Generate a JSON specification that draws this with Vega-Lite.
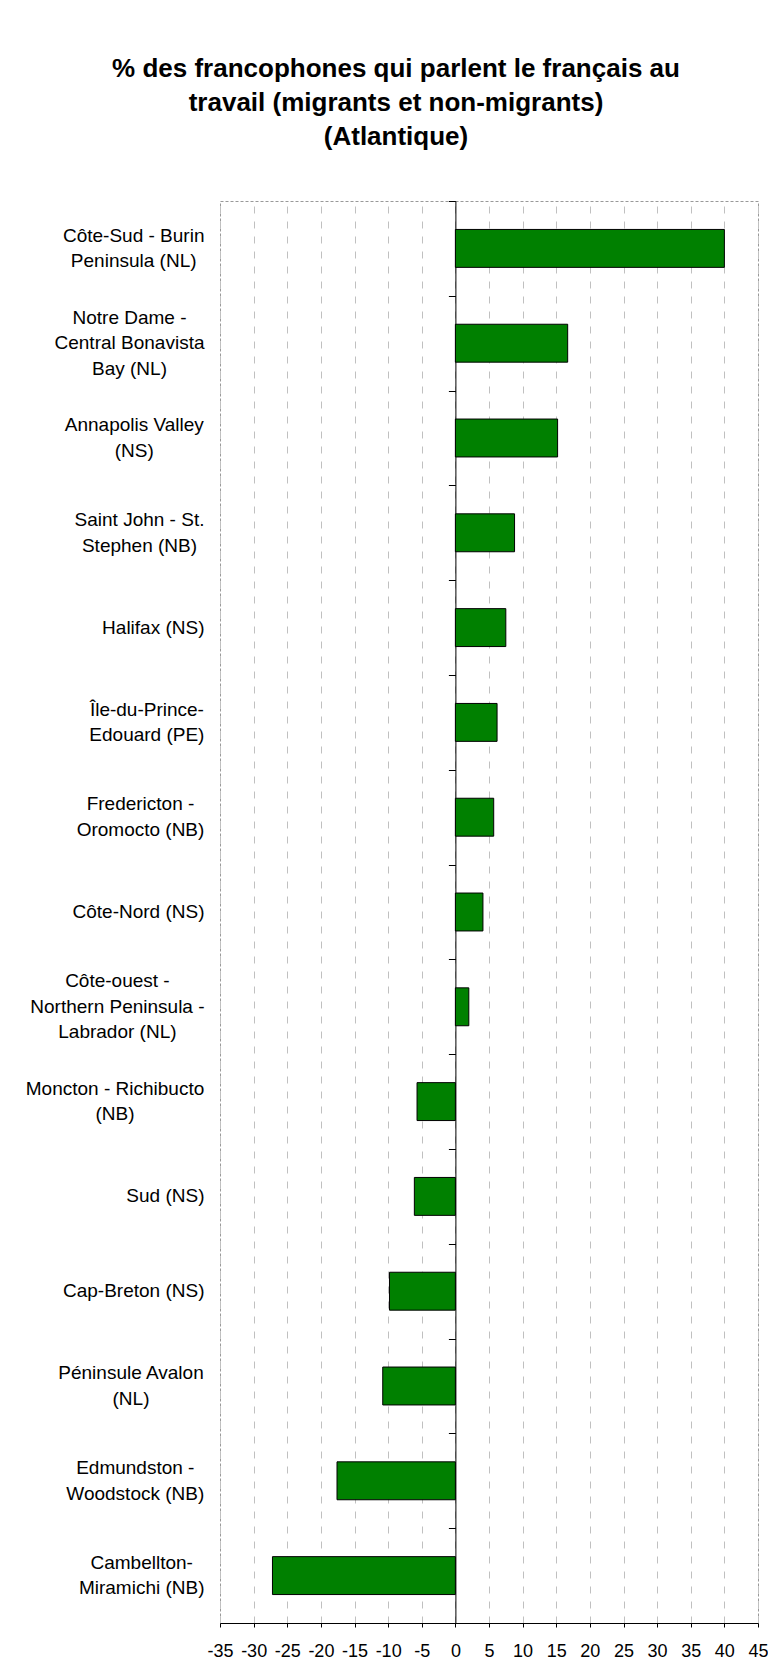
{
  "$schema": "https://vega.github.io/schema/vega-lite/v6.json",
  "autosize": {"type": "none"},
  "padding": {"left": 220, "top": 201, "right": 10, "bottom": 48},
  "width": 538,
  "height": 1422,
  "background": "white",
  "title": {
    "text": ["% des francophones qui parlent le français au", "travail (migrants et non-migrants)", "(Atlantique)"],
    "font": "Liberation Sans",
    "fontSize": 26,
    "fontWeight": "bold",
    "color": "black",
    "lineHeight": 34,
    "anchor": "middle",
    "frame": "group",
    "dx": -93,
    "offset": 51
  },
  "data": {
    "values": [
      {"region": "Côte-Sud - Burin|Peninsula (NL)", "value": 40.0},
      {"region": "Notre Dame -|Central Bonavista|Bay (NL)", "value": 16.7},
      {"region": "Annapolis Valley|(NS)", "value": 15.2},
      {"region": "Saint John - St.|Stephen (NB)", "value": 8.8},
      {"region": "Halifax (NS)", "value": 7.5},
      {"region": "Île-du-Prince-|Edouard (PE)", "value": 6.2},
      {"region": "Fredericton -|Oromocto (NB)", "value": 5.7},
      {"region": "Côte-Nord (NS)", "value": 4.1},
      {"region": "Côte-ouest -|Northern Peninsula -|Labrador (NL)", "value": 2.0},
      {"region": "Moncton - Richibucto|(NB)", "value": -5.7},
      {"region": "Sud (NS)", "value": -6.1},
      {"region": "Cap-Breton (NS)", "value": -9.8},
      {"region": "Péninsule Avalon|(NL)", "value": -10.8},
      {"region": "Edmundston -|Woodstock (NB)", "value": -17.6},
      {"region": "Cambellton-|Miramichi (NB)", "value": -27.2}
    ]
  },
  "encoding": {
    "x": {
      "field": "value", "type": "quantitative",
      "scale": {"domain": [-35, 45], "nice": false, "zero": false},
      "axis": {
        "title": null, "values": [-35, -30, -25, -20, -15, -10, -5, 0, 5, 10, 15, 20, 25, 30, 35, 40, 45],
        "labelExpr": "replace(datum.label, '\u2212', '-')",
        "grid": true, "gridColor": "#c0c0c0", "gridDash": [7, 8], "gridWidth": 1,
        "domain": true, "domainColor": "black", "domainWidth": 1,
        "ticks": true, "tickColor": "black", "tickSize": 4,
        "labelFont": "Liberation Sans", "labelFontSize": 18, "labelColor": "black",
        "labelPadding": 15, "labelFlush": false, "labelOverlap": false
      }
    }
  },
  "layer": [
    {
      "mark": {"type": "bar", "fill": "#008000", "stroke": "black", "strokeWidth": 1},
      "encoding": {
        "y": {
          "field": "region", "type": "nominal", "sort": null,
          "scale": {"paddingInner": 0.6, "paddingOuter": 0.3},
          "axis": {
            "title": null, "orient": "left", "domain": false, "ticks": false, "grid": false,
            "labelExpr": "split(datum.value, '|')",
            "labelFont": "Liberation Sans", "labelFontSize": 19, "labelColor": "black",
            "labelLineHeight": 25.6,
            "labelOffset": {"condition": [
              {"test": "length(split(datum.value,'|'))==2", "value": -12.8},
              {"test": "length(split(datum.value,'|'))==3", "value": -25.6}
            ], "value": 0},
            "labelAlign": {"condition": {"test": "length(split(datum.value,'|'))>1", "value": "center"}, "value": "right"},
            "labelPadding": {"condition": [
              {"test": "datum.value=='Côte-Sud - Burin|Peninsula (NL)'", "value": 86.8},
              {"test": "datum.value=='Notre Dame -|Central Bonavista|Bay (NL)'", "value": 91},
              {"test": "datum.value=='Annapolis Valley|(NS)'", "value": 86.2},
              {"test": "datum.value=='Saint John - St.|Stephen (NB)'", "value": 81},
              {"test": "datum.value=='Île-du-Prince-|Edouard (PE)'", "value": 73.6},
              {"test": "datum.value=='Fredericton -|Oromocto (NB)'", "value": 80},
              {"test": "datum.value=='Côte-ouest -|Northern Peninsula -|Labrador (NL)'", "value": 103.1},
              {"test": "datum.value=='Moncton - Richibucto|(NB)'", "value": 105.5},
              {"test": "datum.value=='Péninsule Avalon|(NL)'", "value": 89.5},
              {"test": "datum.value=='Edmundston -|Woodstock (NB)'", "value": 85.2},
              {"test": "datum.value=='Cambellton-|Miramichi (NB)'", "value": 78.8}
            ], "value": 16},
            "labelBaseline": "middle",
            "labelLimit": 300
          }
        }
      }
    },
    {
      "mark": {"type": "bar", "opacity": 0},
      "encoding": {
        "y": {
          "field": "region", "type": "nominal", "sort": null,
          "axis": {
            "title": null, "orient": "left", "offset": -235.4,
            "domain": true, "domainColor": "black", "domainWidth": 1,
            "labels": false, "grid": false, "ticks": true, "tickBand": "center",
            "tickOffset": -47.4, "tickSize": 7, "tickColor": "black"
          }
        }
      }
    }
  ],
  "resolve": {"axis": {"y": "independent"}},
  "config": {
    "view": {"stroke": "#999999", "strokeDash": [3, 2], "strokeWidth": 1}
  }
}
